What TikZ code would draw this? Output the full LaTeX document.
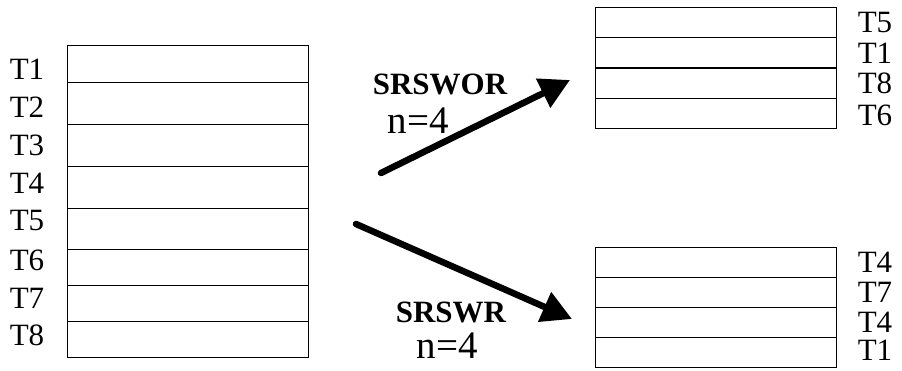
\documentclass[tikz,border=0pt]{standalone}
\usepackage{fontspec}
\setmainfont{Liberation Serif}
\usetikzlibrary{arrows.meta}
\begin{document}
\begin{tikzpicture}[x=1pt,y=-1pt,
  cell/.style={draw, line width=0.8pt, minimum width=241pt, inner sep=0pt, anchor=north west},
  tlabel/.style={font=\fontsize{31}{36}\selectfont, inner sep=0pt, text height=20.5pt, text depth=0pt},
  method/.style={font=\fontsize{31}{36}\selectfont\bfseries, inner sep=0pt, text height=20.8pt, text depth=0pt},
  size/.style={font=\fontsize{39}{44}\selectfont, inner sep=0pt, text height=26.4pt, text depth=0pt},
  pick/.style={line width=6.5pt, line cap=round, -{Triangle[length=30pt,width=31pt]}}]
\useasboundingbox (0,0) rectangle (902,371);
% population
\foreach \n/\t/\h/\ly in {1/45/37/69, 2/82/42/107, 3/124/42/145, 4/166/42/183,
                          5/208/41/220, 6/249/36/260, 7/285/36/298, 8/321/36/335}{
  \node[cell, minimum height=\h pt] (pop\n) at (67,\t) {};
  \node[tlabel] (popT\n) at (27,\ly) {T\n};
}
% sample without replacement
\foreach \n/\t/\ly/\lab in {1/7/22/T5, 2/37/53/T1, 3/68/83/T8, 4/98/115/T6}{
  \node[cell, minimum height=30pt] (wor\n) at (595,\t) {};
  \node[tlabel] (worT\n) at (875,\ly) {\lab};
}
% sample with replacement
\foreach \n/\t/\ly/\lab in {1/247/262/T4, 2/277/292/T7, 3/307/322/T4, 4/337/350/T1}{
  \node[cell, minimum height=30pt] (wr\n) at (595,\t) {};
  \node[tlabel] (wrT\n) at (875,\ly) {\lab};
}
\coordinate (wor-from) at (381,173);
\coordinate (wor-to) at (570,80);
\coordinate (wr-from) at (356,224);
\coordinate (wr-to) at (572,319);
\draw[pick] (wor-from) -- (wor-to);
\draw[pick] (wr-from) -- (wr-to);
\node[method] (worname) at (440,84) {SRSWOR};
\node[size] (worsize) at (418,120) {n=4};
\node[method] (wrname) at (451,312) {SRSWR};
\node[size] (wrsize) at (447,345) {n=4};
\end{tikzpicture}
\end{document}
